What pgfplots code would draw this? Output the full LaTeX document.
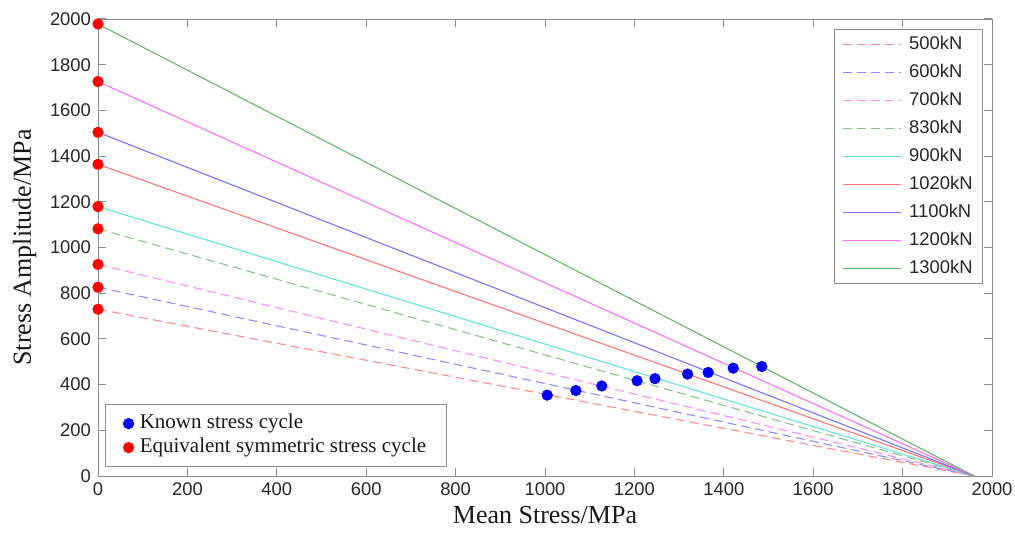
\documentclass[border=0pt]{standalone}
\usepackage{fontspec}
\setmainfont{Liberation Serif}
\setsansfont{Liberation Sans}
\usepackage{pgfplots}
\pgfplotsset{compat=1.18}
\definecolor{cA}{HTML}{FF8C8C}
\definecolor{cB}{HTML}{8C8CFF}
\definecolor{cC}{HTML}{FF8CFF}
\definecolor{cD}{HTML}{88C488}
\definecolor{cE}{HTML}{66E0E0}
\definecolor{cF}{HTML}{FF7474}
\definecolor{cG}{HTML}{7474FF}
\definecolor{cH}{HTML}{FF6EFF}
\definecolor{cI}{HTML}{66B466}
\definecolor{axgray}{HTML}{8C8C8C}
\begin{document}
\begin{tikzpicture}
\begin{axis}[
  at={(0pt,0pt)}, anchor=south west,
  scale only axis, width=447pt, height=228.5pt,
  xmin=0, xmax=2000, ymin=0, ymax=2000,
  xtick={0,200,...,2000}, ytick={0,200,...,2000},
  tick pos=both, ticklabel pos=left, tick align=inside,
  major tick length=4pt,
  axis line style={draw=axgray},
  every tick/.style={draw=axgray, line width=0.5pt},
  ticklabel style={font=\sffamily\fontsize{9.2}{10}\selectfont, text=black!85},
  /pgf/number format/assume math mode=true,
  /pgf/number format/1000 sep={},
  xlabel={Mean Stress/MPa},
  ylabel={Stress Amplitude/MPa},
  label style={font=\fontsize{13}{15}\selectfont, text=black!90},
  xlabel style={at={(axis description cs:0.5,-0.0853)}, anchor=center},
  ylabel style={at={(axis description cs:-0.0822,0.5)}, anchor=center},
  legend image code/.code={\draw[#1] (0pt,0pt) -- (29pt,0pt);},
  legend cell align=left,
  legend style={at={(axis description cs:1,1)}, anchor=north east,
    xshift=-4.5pt, yshift=-5pt, draw=axgray,
    font=\sffamily\fontsize{9.2}{10}\selectfont, text=black!85,
    nodes={inner sep=1pt, text height=7pt, text depth=2pt},
    row sep=3pt, inner xsep=4pt, inner ysep=2pt,
    /tikz/every odd column/.append style={column sep=3pt}},
  every axis plot/.append style={line width=0.55pt},
]
\addplot[cA, dash pattern=on 4.5pt off 2.5pt] coordinates {(0,730) (1960,0)};
\addlegendentry{500kN}
\addplot[cB, dash pattern=on 4.5pt off 2.5pt] coordinates {(0,826) (1960,0)};
\addlegendentry{600kN}
\addplot[cC, dash pattern=on 4.5pt off 2.5pt] coordinates {(0,926) (1960,0)};
\addlegendentry{700kN}
\addplot[cD, dash pattern=on 4.5pt off 2.5pt] coordinates {(0,1082) (1960,0)};
\addlegendentry{830kN}
\addplot[cE] coordinates {(0,1179) (1960,0)};
\addlegendentry{900kN}
\addplot[cF] coordinates {(0,1364) (1960,0)};
\addlegendentry{1020kN}
\addplot[cG] coordinates {(0,1504) (1960,0)};
\addlegendentry{1100kN}
\addplot[cH] coordinates {(0,1726) (1960,0)};
\addlegendentry{1200kN}
\addplot[cI] coordinates {(0,1978) (1960,0)};
\addlegendentry{1300kN}
\end{axis}
\begin{axis}[
  at={(0pt,0pt)}, anchor=south west,
  scale only axis, width=447pt, height=228.5pt,
  xmin=0, xmax=2000, ymin=0, ymax=2000,
  hide axis, clip=false,
  legend image code/.code={\draw[#1] plot coordinates {(0pt,0pt)};},
  legend cell align=left,
  legend style={at={(axis description cs:0,0)}, anchor=south west,
    xshift=3.5pt, yshift=4.5pt, draw=axgray,
    font=\fontsize{10.5}{12}\selectfont, text=black!90,
    nodes={inner sep=1pt, text height=7.5pt, text depth=2.5pt},
    row sep=0pt, inner xsep=9pt, inner ysep=3.5pt,
    /tikz/every odd column/.append style={column sep=2pt}},
]
\addplot[only marks, mark=*, mark size=2.6pt, color=blue, mark options={fill=blue, draw=blue}]
  coordinates {(1005,354) (1069,374) (1127,394) (1206,417) (1246,426)
               (1319,446) (1365,453) (1421,472) (1485,479)};
\addlegendentry{Known stress cycle}
\addplot[only marks, mark=*, mark size=2.6pt, color=red, mark options={fill=red, draw=red}]
  coordinates {(0,730) (0,826) (0,926) (0,1082) (0,1179) (0,1364) (0,1504) (0,1726) (0,1978)};
\addlegendentry{Equivalent symmetric stress cycle}
\end{axis}
\pgfresetboundingbox
\useasboundingbox (-49pt,-29.5pt) rectangle (458.5pt,238pt);
\end{tikzpicture}
\end{document}
